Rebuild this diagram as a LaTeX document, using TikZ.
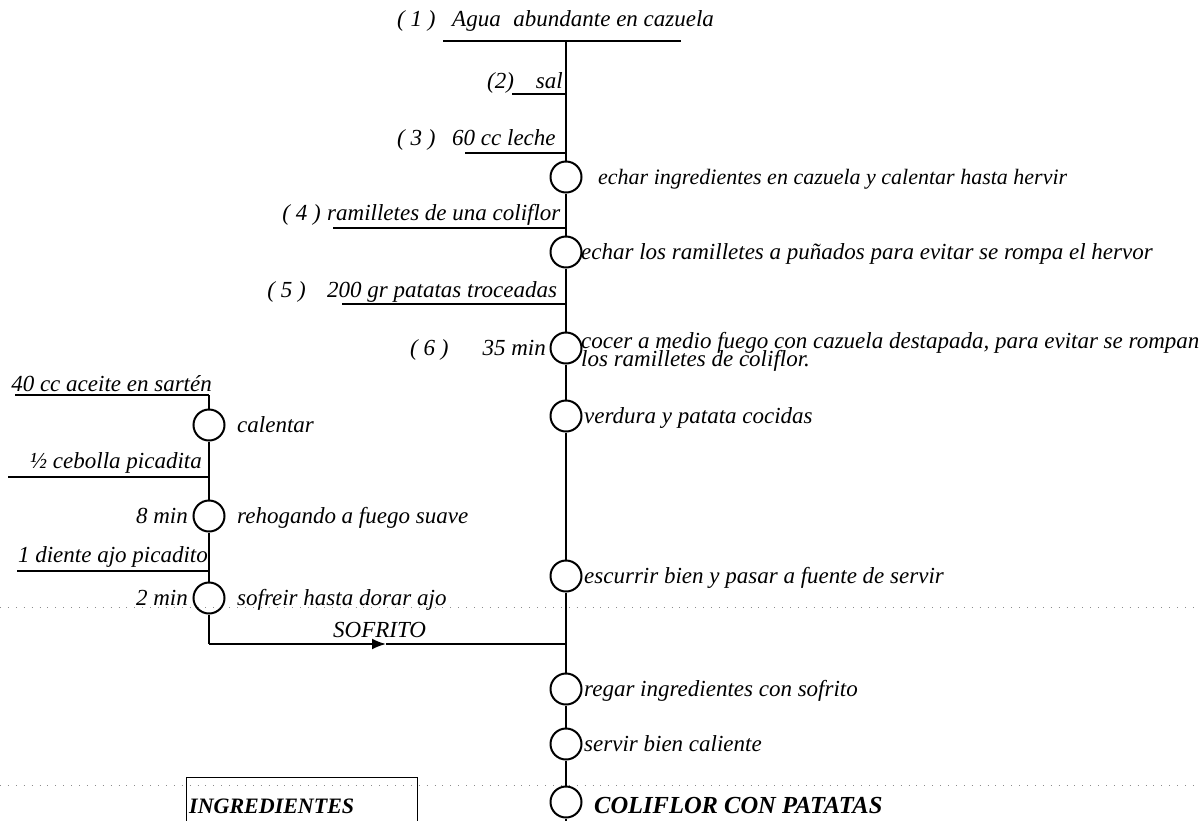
\documentclass[tikz,border=0pt]{standalone}
\usepackage{fontspec}
\setmainfont{Liberation Serif}
\usetikzlibrary{arrows.meta}

\tikzset{
  txt/.style={inner sep=0pt, font=\fontsize{23}{24}\selectfont\itshape},
  title/.style={inner sep=0pt, font=\fontsize{24.5}{26}\selectfont\bfseries\itshape},
  boxtitle/.style={inner sep=0pt, font=\fontsize{22}{24}\selectfont\bfseries\itshape},
  stepcircle/.style={circle, draw, line width=2pt, minimum size=31pt, inner sep=0pt},
  flow/.style={line width=1.9pt},
  feed/.style={line width=1.9pt},
  guide/.style={black!45, line width=0.9pt, dash pattern=on 0.9pt off 7pt},
  headarrow/.style={-{Latex[length=14pt,width=11pt]}}
}

\begin{document}
\begin{tikzpicture}[x=1pt,y=-1pt]
  \useasboundingbox (0,0) rectangle (1199,820);
  \clip (0,0) rectangle (1199,820);

  % faint guide lines across the sheet
  \draw[guide] (0,607) -- (1199,607);
  \draw[guide] (0,785) -- (1199,785);

  % ---------- main sequence ----------
  \node[txt, anchor=base west] (n1) at (397,26) {( 1 )};
  \node[txt, anchor=base west] (agua) at (452,26) {Agua\hspace{0.3em} abundante en cazuela};
  \coordinate (barL) at (443,41);
  \coordinate (barR) at (681,41);
  \coordinate (j0) at (566,41);
  \draw[line width=2.6pt] (barL) -- (barR);

  % (2) sal
  \node[txt, anchor=base west] (n2) at (487,88) {(2)};
  \node[txt, anchor=base east] (sal) at (563,88) {sal};
  \coordinate (i2s) at (512,94);
  \coordinate (i2e) at (566,94);
  \draw[feed] (i2s) -- (i2e);

  % (3) leche
  \node[txt, anchor=base west] (n3) at (397,145) {( 3 )};
  \node[txt, anchor=base west] (leche) at (452,145) {60 cc leche};
  \coordinate (i3s) at (465,153);
  \coordinate (i3e) at (566,153);
  \draw[feed] (i3s) -- (i3e);

  \node[stepcircle] (c1) at (566,177) {};
  \node[txt, anchor=base west, font=\fontsize{22}{24}\selectfont\itshape] (c1t) at (598,184) {echar ingredientes en cazuela y calentar hasta hervir};

  % (4) coliflor
  \node[txt, anchor=base east] (n4) at (321,220) {( 4 )};
  \node[txt, anchor=base west] (ramil) at (327,220) {ramilletes de una coliflor};
  \coordinate (i4s) at (333,228);
  \coordinate (i4e) at (566,228);
  \draw[feed] (i4s) -- (i4e);

  \node[stepcircle] (c2) at (566,252) {};
  \node[txt, anchor=base west] (c2t) at (581,259) {echar los ramilletes a puñados para evitar se rompa el hervor};

  % (5) patatas
  \node[txt, anchor=base east] (n5) at (306,297) {( 5 )};
  \node[txt, anchor=base west] (patat) at (327,297) {200 gr patatas troceadas};
  \coordinate (i5s) at (342,304);
  \coordinate (i5e) at (566,304);
  \draw[feed] (i5s) -- (i5e);

  % (6) cocer
  \node[stepcircle] (c3) at (566,348) {};
  \node[txt, anchor=base west] (n6) at (410,355) {( 6 )};
  \node[txt, anchor=base east] (t35) at (546,355) {35 min};
  \node[txt, anchor=base west] (c3t) at (581,348) {cocer a medio fuego con cazuela destapada, para evitar se rompan};
  \node[txt, anchor=base west] (c3u) at (581,366) {los ramilletes de coliflor.};

  \node[stepcircle] (c4) at (566,416) {};
  \node[txt, anchor=base west] (c4t) at (584,423) {verdura y patata cocidas};

  \node[stepcircle] (c5) at (566,576) {};
  \node[txt, anchor=base west] (c5t) at (584,583) {escurrir bien y pasar a fuente de servir};

  \coordinate (j5) at (566,644);

  \node[stepcircle] (c6) at (566,689) {};
  \node[txt, anchor=base west] (c6t) at (584,696) {regar ingredientes con sofrito};

  \node[stepcircle] (c7) at (566,744) {};
  \node[txt, anchor=base west] (c7t) at (584,751) {servir bien caliente};

  \node[stepcircle] (c8) at (566,802) {};
  \node[title, anchor=base west] (c8t) at (594,813) {COLIFLOR CON PATATAS};
  \coordinate (cend) at (566,840);

  \draw[flow] (j0) -- (c1) -- (c2) -- (c3) -- (c4) -- (c5) -- (c6) -- (c7) -- (c8) -- (cend);

  % ---------- sofrito branch ----------
  \node[txt, anchor=base east] (a1) at (212,391) {40 cc aceite en sartén};
  \coordinate (a1s) at (15,395);
  \coordinate (a1e) at (209,395);
  \draw[feed] (a1s) -- (a1e);

  \node[stepcircle] (l1) at (209,425) {};
  \node[txt, anchor=base west] (l1t) at (237,432) {calentar};

  \node[txt, anchor=base east] (a2) at (202,468) {½ cebolla picadita};
  \coordinate (a2s) at (8,477);
  \coordinate (a2e) at (209,477);
  \draw[feed] (a2s) -- (a2e);

  \node[stepcircle] (l2) at (209,516) {};
  \node[txt, anchor=base east] (l2m) at (188,523) {8 min};
  \node[txt, anchor=base west] (l2t) at (237,523) {rehogando a fuego suave};

  \node[txt, anchor=base east] (a3) at (208,562) {1 diente ajo picadito};
  \coordinate (a3s) at (17,571);
  \coordinate (a3e) at (209,571);
  \draw[feed] (a3s) -- (a3e);

  \node[stepcircle] (l3) at (209,598) {};
  \node[txt, anchor=base east] (l3m) at (188,605) {2 min};
  \node[txt, anchor=base west] (l3t) at (237,605) {sofreir hasta dorar ajo};

  % sofrito joins the main line
  \coordinate (corner) at (209,644);
  \coordinate (sofhead) at (386,644);
  \draw[flow] (a1e) -- (l1) -- (l2) -- (l3) -- (corner);
  \draw[flow, headarrow] (corner) -- (sofhead);
  \draw[flow] (sofhead) -- (j5);
  \node[txt, anchor=base west] (sofr) at (333,637) {SOFRITO};

  % ---------- ingredients box ----------
  \node[draw, line width=1.2pt, minimum width=231pt, minimum height=60pt,
        anchor=north west, inner sep=0pt] (ingbox) at (186,777) {};
  \node[boxtitle, anchor=base west] (ingt) at (189,813) {INGREDIENTES};
\end{tikzpicture}
\end{document}
